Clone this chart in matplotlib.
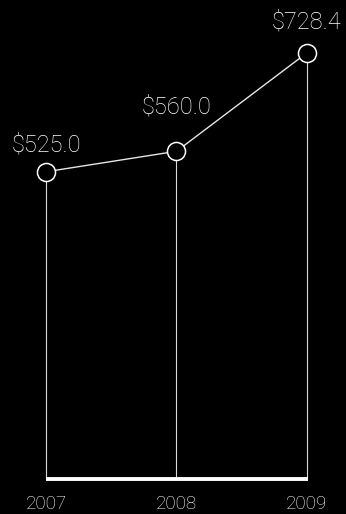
import matplotlib
matplotlib.use('Agg')
import matplotlib.pyplot as plt

years = [2007, 2008, 2009]
revenue = [525.0, 560.0, 728.4]
value_labels = ['$525.0', '$560.0', '$728.4']
year_labels = ['2007', '2008', '2009']

# vertical offsets (points) of the value labels above each marker
label_offsets = [19, 32, 22]

fig = plt.figure(figsize=(3.46, 5.14), dpi=100, facecolor='black')
ax = fig.add_axes([0, 0, 1, 1])
ax.set_facecolor('black')
ax.set_axis_off()

ax.set_xlim(2006.6475, 2009.2989)
ax.set_ylim(-60.0, 818.6)

# drop lines from each point to the baseline
ax.vlines(years, 0, revenue, color='#d8d8d8', lw=0.8, zorder=1)
ax.plot([years[0], years[-1] + 0.01], [0, 0], color='white', lw=2.8,
        solid_capstyle='butt', zorder=2)

ax.plot(years, revenue, color='#e6e6e6', lw=1.0, zorder=3,
        marker='o', ms=13, mfc='black', mec='white', mew=1.1)

for x, y, text, off in zip(years, revenue, value_labels, label_offsets):
    ax.annotate(text, (x, y), xytext=(0, off), textcoords='offset points',
                ha='center', va='center', color='white', fontsize=17,
                family='Roboto', fontweight='light')

for x, text in zip(years, year_labels):
    ax.annotate(text, (x, 0), xytext=(0, -18), textcoords='offset points',
                ha='center', va='center', color='white', fontsize=13.5,
                family='Roboto', fontweight='light')

fig.savefig('out.png', dpi=100, facecolor='black')
